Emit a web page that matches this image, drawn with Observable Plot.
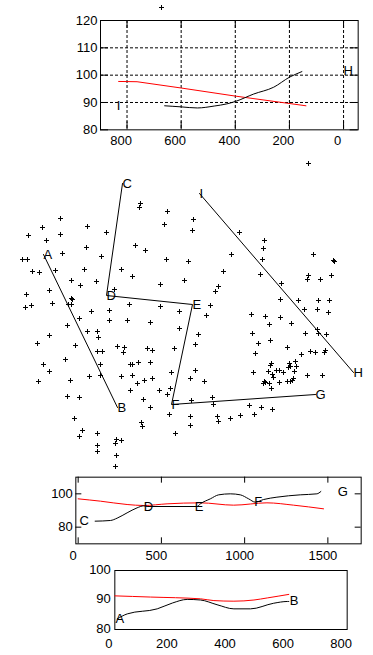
<!DOCTYPE html>
<html><head><meta charset="utf-8">
<script src="https://cdn.jsdelivr.net/npm/d3@7"></script>
<script src="https://cdn.jsdelivr.net/npm/@observablehq/plot@0.6"></script>
<style>
html,body{margin:0;padding:0;background:#fff;}
#wrap{position:relative;width:373px;height:655px;overflow:hidden;background:#fff;}
#wrap > svg{position:absolute;left:0;top:0;}
</style></head><body><div id="wrap"></div>
<script>
// ---------- map (scatter) data: station positions ----------
const scatterX = [161,308,140,139,167,60,42,87,164,193,192,28,60,106,239,46,264,86,135,145,263,62,101,231,313,22,27,166,188,262,333,334,32,39,55,84,121,223,132,260,308,307,320,331,71,96,184,80,160,218,281,49,215,114,26,71,72,52,68,71,129,160,210,280,298,318,329,25,31,91,109,179,206,251,265,280,304,317,328,79,109,127,150,269,291,67,87,97,98,49,37,75,179,198,195,252,270,258,287,305,317,318,326,301,310,315,324,325,117,124,123,97,102,147,152,174,255,65,43,100,130,132,138,150,49,38,70,89,100,121,132,137,144,152,171,195,190,204,253,130,159,167,170,67,79,143,150,191,212,213,249,261,272,74,82,79,97,97,97,116,121,115,116,115,141,142,169,175,190,190,217,218,230,240,254,271,270,268,272,276,279,283,273,264,263,265,269,279,271,289,290,288,295,296,294,293,292,287,290,307,322];
const scatterY = [7,163,203,207,211,218,227,226,224,219,230,235,234,232,232,240,240,247,245,250,248,253,256,254,254,259,259,259,261,259,260,261,271,272,270,269,269,271,276,274,275,279,279,275,280,281,280,285,284,286,283,290,291,289,294,298,299,303,304,304,304,306,305,299,300,300,300,307,305,311,310,311,315,314,316,317,309,309,312,318,320,320,322,324,323,325,331,331,337,335,343,345,328,334,344,333,340,343,347,333,329,333,334,354,351,352,352,350,346,347,352,351,351,348,350,348,353,359,364,364,364,364,362,362,371,381,380,376,375,376,375,383,380,378,372,370,378,381,372,390,390,394,388,396,397,399,407,400,397,404,405,407,409,418,430,436,433,445,451,439,440,443,455,466,422,426,414,433,416,425,416,421,418,415,414,363,365,371,374,370,370,372,377,381,383,382,383,382,388,363,366,367,361,366,371,378,380,381,381,375,375];

// profile vertices on the map
const vertexNames = ["A","B","C","D","E","F","G","H","I"];
const vertexX = [43,117,122,106,192,171,315,353,199];
const vertexY = [254,407,183,295,304,404,394,372,193];
const lineAB = ["A","B"];
const lineCG = ["C","D","E","F","G"];
const lineIH = ["I","H"];

// ---------- profile I-H (top panel) ----------
const ihObsDist = [661,600,540,478,431,399,332,258,199,154];
const ihObsVal  = [88.8,88.4,88.0,88.7,89.5,90.4,93.1,95.6,99.3,101.3];
const ihModDist = [831,763,600,397,198,139];
const ihModVal  = [97.7,97.6,95.3,92.3,89.6,88.8];
const ihLabels = ["I","H"];
const ihLabelDist = [838,0];
const ihLabelVal = [88.8,101.5];
const ihTicksX = [800,600,400,200,0];
const ihTicksY = [80,90,100,110,120];

// ---------- profile C-D-E-F-G (middle panel) ----------
const cgObsDist = [102,194,234,294,354,394,414,714,734,794,844,914,974,1024,1064,1114,1194,1334,1434,1458];
const cgObsVal  = [83.6,84.0,85.4,88.6,91.6,92.8,92.4,92.4,94.0,97.0,99.4,100,99.4,97,95,96.6,98,99.4,100,101.4];
const cgModDist = [0,134,294,394,534,734,934,1134,1294,1474];
const cgModVal  = [97.0,95.6,93.6,93.0,94.0,94.6,93.2,94.6,93.2,91.0];
const cgLabels = ["C","D","E","F","G"];
const cgLabelDist = [8,394,700,1058,1560];
const cgLabelVal = [84,92.4,92,95.4,101.4];
const cgTicksX = [0,500,1000,1500];
const cgTicksY = [80,100];

// ---------- profile A-B (bottom panel) ----------
const abObsDist = [8,43,146,199,249,295,352,410,467,547,594,599];
const abObsVal  = [83.6,85.3,87,89,90.2,90,88.4,87,87,88.9,89.5,89.5];
const abModDist = [0,123,295,341,410,479,525,599];
const abModVal  = [91.4,91,90.4,89.8,89.6,90,90.7,91.9];
const abLabels = ["A","B"];
const abLabelDist = [2,602];
const abLabelVal = [83.6,89.6];
const abTicksX = [0,200,400,600,800];
const abTicksY = [80,90,100];

const FONT = "'Liberation Sans', Arial, Helvetica, sans-serif";
const W = 373, H = 655;
const wrap = document.getElementById("wrap");
const baseStyle = {background: "transparent", fontFamily: FONT, fontSize: "13px", color: "black", overflow: "visible"};
const fmt = d => String(d);

function inward(ticksX, ticksY, iw, ih, len, sides) {
  const m = [];
  if (sides.bottom) m.push(Plot.ruleX(ticksX, {x: d => d, stroke: "black", insetTop: ih - len}));
  if (sides.top) m.push(Plot.ruleX(ticksX, {x: d => d, stroke: "black", insetBottom: ih - len}));
  if (sides.left) m.push(Plot.ruleY(ticksY, {y: d => d, stroke: "black", insetRight: iw - len}));
  if (sides.right) m.push(Plot.ruleY(ticksY, {y: d => d, stroke: "black", insetLeft: iw - len}));
  return m;
}

// ---- top panel ----
{
  const mL = 100, mR = 15.33, mT = 20, mB = H - 129.33;
  const iw = W - mL - mR, ih = H - mT - mB;
  const svg = Plot.plot({
    width: W, height: H, marginLeft: mL, marginRight: mR, marginTop: mT, marginBottom: mB,
    style: baseStyle,
    x: {domain: [898, -54]}, y: {domain: [80, 120]},
    marks: [
      Plot.gridX(ihTicksX, {stroke: "black", strokeOpacity: 1, strokeDasharray: "3,2"}),
      Plot.gridY([90,100,110], {stroke: "black", strokeOpacity: 1, strokeDasharray: "3,2"}),
      ...inward(ihTicksX, ihTicksY, iw, ih, 8, {bottom: true, top: true, left: true, right: true}),
      Plot.axisX(ihTicksX, {tickSize: 0, tickPadding: 6, dx: -6, tickFormat: fmt, label: null, fontSize: 13}),
      Plot.axisY(ihTicksY, {tickSize: 0, tickPadding: 3, tickFormat: fmt, label: null, fontSize: 13}),
      Plot.frame({stroke: "black"}),
      Plot.line(ihModDist, {x: ihModDist, y: ihModVal, stroke: "#ff0000", strokeWidth: 1}),
      Plot.line(ihObsDist, {x: ihObsDist, y: ihObsVal, stroke: "black", strokeWidth: 1, curve: "monotone-x"}),
      Plot.text(ihLabels, {x: ihLabelDist, y: ihLabelVal, text: d => d, textAnchor: "start", fontSize: 13, fill: "black"})
    ]
  });
  wrap.appendChild(svg);
}

// ---- middle panel ----
{
  const mL = 75.33, mR = 12.33, mT = 476.67, mB = H - 543.33;
  const iw = W - mL - mR, ih = H - mT - mB;
  const svg = Plot.plot({
    width: W, height: H, marginLeft: mL, marginRight: mR, marginTop: mT, marginBottom: mB,
    style: baseStyle,
    x: {domain: [-14, 1700]}, y: {domain: [70, 110]},
    marks: [
      ...inward(cgTicksX, cgTicksY, iw, ih, 6, {bottom: true, top: true, left: true, right: true}),
      Plot.axisX(cgTicksX, {tickSize: 0, tickPadding: 7, dx: -5, tickFormat: fmt, label: null, fontSize: 13}),
      Plot.axisY(cgTicksY, {tickSize: 0, tickPadding: 3, tickFormat: fmt, label: null, fontSize: 13}),
      Plot.frame({stroke: "black"}),
      Plot.line(cgModDist, {x: cgModDist, y: cgModVal, stroke: "#ff0000", strokeWidth: 1, curve: "monotone-x"}),
      Plot.line(cgObsDist, {x: cgObsDist, y: cgObsVal, stroke: "black", strokeWidth: 1, curve: "monotone-x"}),
      Plot.text(cgLabels, {x: cgLabelDist, y: cgLabelVal, text: d => d, textAnchor: "start", fontSize: 13, fill: "black"})
    ]
  });
  wrap.appendChild(svg);
}

// ---- bottom panel ----
{
  const mL = 114.33, mR = 26.33, mT = 570, mB = H - 629;
  const svg = Plot.plot({
    width: W, height: H, marginLeft: mL, marginRight: mR, marginTop: mT, marginBottom: mB,
    style: baseStyle,
    x: {domain: [0, 800]}, y: {domain: [80, 100]},
    marks: [
      Plot.axisX(abTicksX, {tickSize: 0, tickPadding: 9, dx: -6, tickFormat: fmt, label: null, fontSize: 13}),
      Plot.axisY(abTicksY, {tickSize: 0, tickPadding: 4, dy: -1, tickFormat: fmt, label: null, fontSize: 13}),
      Plot.frame({stroke: "black"}),
      Plot.line(abModDist, {x: abModDist, y: abModVal, stroke: "#ff0000", strokeWidth: 1, curve: "monotone-x"}),
      Plot.line(abObsDist, {x: abObsDist, y: abObsVal, stroke: "black", strokeWidth: 1, curve: "monotone-x"}),
      Plot.text(abLabels, {x: abLabelDist, y: abLabelVal, text: d => d, textAnchor: "start", fontSize: 13, fill: "black"})
    ]
  });
  wrap.appendChild(svg);
}

// ---- map with stations and profile lines (drawn on top, transparent) ----
{
  const idx = name => vertexNames.indexOf(name);
  const thinPlus = {
    draw(ctx, size) {
      const r = Math.sqrt(size / Math.PI);
      ctx.moveTo(-r, 0); ctx.lineTo(r, 0);
      ctx.moveTo(0, -r); ctx.lineTo(0, r);
    }
  };
  const lineMark = names => Plot.line(names, {x: d => vertexX[idx(d)], y: d => vertexY[idx(d)], stroke: "black", strokeWidth: 1});
  const svg = Plot.plot({
    width: W, height: H, margin: 0,
    style: baseStyle,
    x: {domain: [0, W], axis: null},
    y: {domain: [0, H], reverse: true, axis: null},
    marks: [
      Plot.dot(scatterX, {x: scatterX, y: scatterY, symbol: thinPlus, r: 2.5, stroke: "black", fill: "none", strokeWidth: 1}),
      lineMark(lineAB), lineMark(lineCG), lineMark(lineIH),
      Plot.text(vertexNames, {x: vertexX, y: vertexY, text: d => d, textAnchor: "start", fontSize: 13, fill: "black"})
    ]
  });
  wrap.appendChild(svg);
}
</script>
</body></html>
